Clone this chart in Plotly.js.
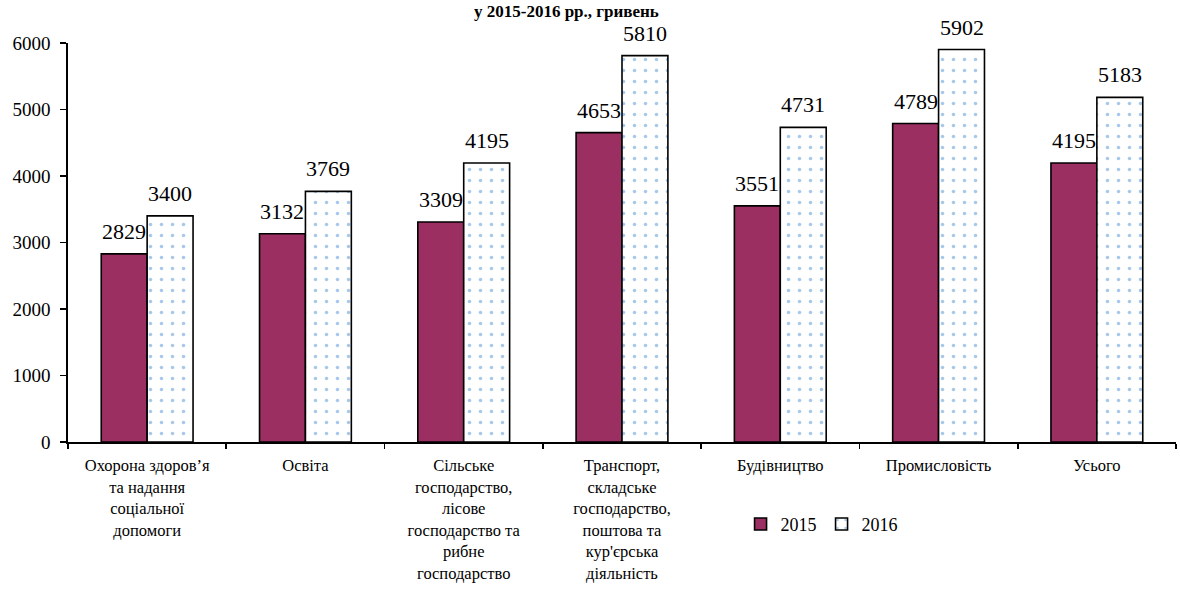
<!DOCTYPE html>
<html>
<head>
<meta charset="utf-8">
<script src="https://cdn.plot.ly/plotly-3.0.1.min.js"></script>
<style>html,body{margin:0;padding:0;background:#fff;}#chart{width:1180px;height:594px;}</style>
</head>
<body>
<div id="chart"></div>
<script>
const categories = [
  "Охорона здоров’я<br>та надання<br>соціальної<br>допомоги",
  "Освіта",
  "Сільське<br>господарство,<br>лісове<br>господарство та<br>рибне<br>господарство",
  "Транспорт,<br>складське<br>господарство,<br>поштова та<br>кур'єрська<br>діяльність",
  "Будівництво",
  "Промисловість",
  "Усього"
];
const values2015 = [2829, 3132, 3309, 4653, 3551, 4789, 4195];
const values2016 = [3400, 3769, 4195, 5810, 4731, 5902, 5183];
const seriesNames = ["2015", "2016"];
const titleText = "у 2015-2016 рр., гривень";

const font = "'Liberation Serif', 'Times New Roman', serif";
const bargap = 0.42;
const half = (1 - bargap) / 4;

const traces = [
  {
    type: "bar", name: seriesNames[0], x: categories, y: values2015,
    marker: {color: "#9b2f62", line: {color: "#000", width: 1.6}}
  },
  {
    type: "bar", name: seriesNames[1], x: categories, y: values2016,
    marker: {color: "#ffffff", line: {color: "#000", width: 1.6},
      pattern: {shape: ".", fgcolor: "#a6c8ea", bgcolor: "#ffffff", size: 11, solidity: 0.08}}
  }
];

const annotations = [];
values2015.forEach((v, i) => annotations.push({
  x: i - half, y: v, xref: "x", yref: "y", text: String(v), showarrow: false,
  yanchor: "bottom", xanchor: "center", yshift: 8, font: {family: font, size: 22, color: "#000"}
}));
values2016.forEach((v, i) => annotations.push({
  x: i + half, y: v, xref: "x", yref: "y", text: String(v), showarrow: false,
  yanchor: "bottom", xanchor: "center", yshift: 8, font: {family: font, size: 22, color: "#000"}
}));

const layout = {
  width: 1180, height: 594,
  margin: {l: 68, r: 4, t: 43, b: 152},
  paper_bgcolor: "#fff", plot_bgcolor: "#fff",
  font: {family: font, color: "#000"},
  title: {text: "<b>" + titleText + "</b>", font: {family: font, size: 17, color: "#000"},
    x: 0.48, xanchor: "center", yref: "container", y: 0.991, yanchor: "top"},
  barmode: "group", bargap: bargap, bargroupgap: 0,
  showlegend: true,
  legend: {orientation: "h", x: 0.607, y: -0.16, xanchor: "left", yanchor: "top",
    font: {family: font, size: 18, color: "#000"}, itemwidth: 30, traceorder: "normal"},
  annotations: annotations,
  xaxis: {
    type: "category", showline: true, linecolor: "#000", linewidth: 1.6,
    ticks: "outside", tickson: "boundaries", ticklen: 5, tickcolor: "#000", tickwidth: 1.6,
    tickfont: {family: font, size: 16.5, color: "#000"}, tickangle: 0, showgrid: false,
    ticklabelstandoff: 8, automargin: false
  },
  yaxis: {
    range: [0, 6000], dtick: 1000, showline: true, linecolor: "#000", linewidth: 1.6,
    ticks: "outside", ticklen: 6, tickcolor: "#000", tickwidth: 1.6, showgrid: false,
    zeroline: false, tickfont: {family: font, size: 19, color: "#000"},
    ticklabelstandoff: 6, automargin: false
  }
};

Plotly.newPlot("chart", traces, layout, {displayModeBar: false, staticPlot: true});
</script>
</body>
</html>
